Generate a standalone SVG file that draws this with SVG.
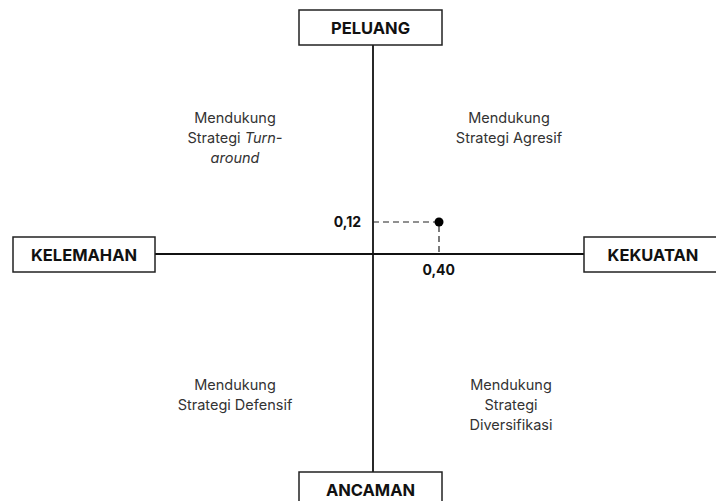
<svg xmlns="http://www.w3.org/2000/svg" width="716" height="501" viewBox="0 0 716 501">
<style>
.box{fill:#fff;stroke:#222;stroke-width:1.5}
.lbl{font-family:Inter,"Liberation Sans",sans-serif;font-weight:700;font-size:16.5px;fill:#111;text-anchor:middle}
.q{font-family:Inter,"Liberation Sans",sans-serif;font-size:14.5px;fill:#333;text-anchor:middle}
.val{font-family:Inter,"Liberation Sans",sans-serif;font-weight:700;font-size:14px;fill:#111}
.axis{stroke:#111;stroke-width:1.8;fill:none}
.dash{stroke:#222;stroke-width:1.2;stroke-dasharray:6 4;fill:none}
</style>
<rect width="716" height="501" fill="#fff"/>
<g id="connectors">
<line class="axis" x1="373" y1="45" x2="373" y2="472"/>
<line class="axis" x1="155" y1="254" x2="584" y2="254"/>
<polyline class="dash" points="373,222 439,222 439,254"/>
</g>
<g id="point">
<circle cx="439" cy="222" r="4.5" fill="#000"/>
<text class="val" x="361" y="227" text-anchor="end">0,12</text>
<text class="val" x="455" y="275" text-anchor="end">0,40</text>
</g>
<g id="peluang">
<rect class="box" x="299" y="10" width="143" height="35"/>
<text class="lbl" x="370.5" y="34">PELUANG</text>
</g>
<g id="kelemahan">
<rect class="box" x="13" y="237" width="142" height="35"/>
<text class="lbl" x="84" y="261">KELEMAHAN</text>
</g>
<g id="kekuatan">
<rect class="box" x="584" y="237" width="140" height="35"/>
<text class="lbl" x="653" y="261">KEKUATAN</text>
</g>
<g id="ancaman">
<rect class="box" x="299" y="472" width="143" height="40"/>
<text class="lbl" x="370.5" y="496">ANCAMAN</text>
</g>
<g id="q-turnaround">
<text class="q" x="235" y="123">Mendukung</text>
<text class="q" x="235" y="143">Strategi <tspan font-style="italic">Turn-</tspan></text>
<text class="q" x="235" y="163" font-style="italic">around</text>
</g>
<g id="q-agresif">
<text class="q" x="509" y="123">Mendukung</text>
<text class="q" x="509" y="143">Strategi Agresif</text>
</g>
<g id="q-defensif">
<text class="q" x="235" y="390">Mendukung</text>
<text class="q" x="235" y="410">Strategi Defensif</text>
</g>
<g id="q-diversifikasi">
<text class="q" x="511" y="390">Mendukung</text>
<text class="q" x="511" y="410">Strategi</text>
<text class="q" x="511" y="430">Diversifikasi</text>
</g>
</svg>
